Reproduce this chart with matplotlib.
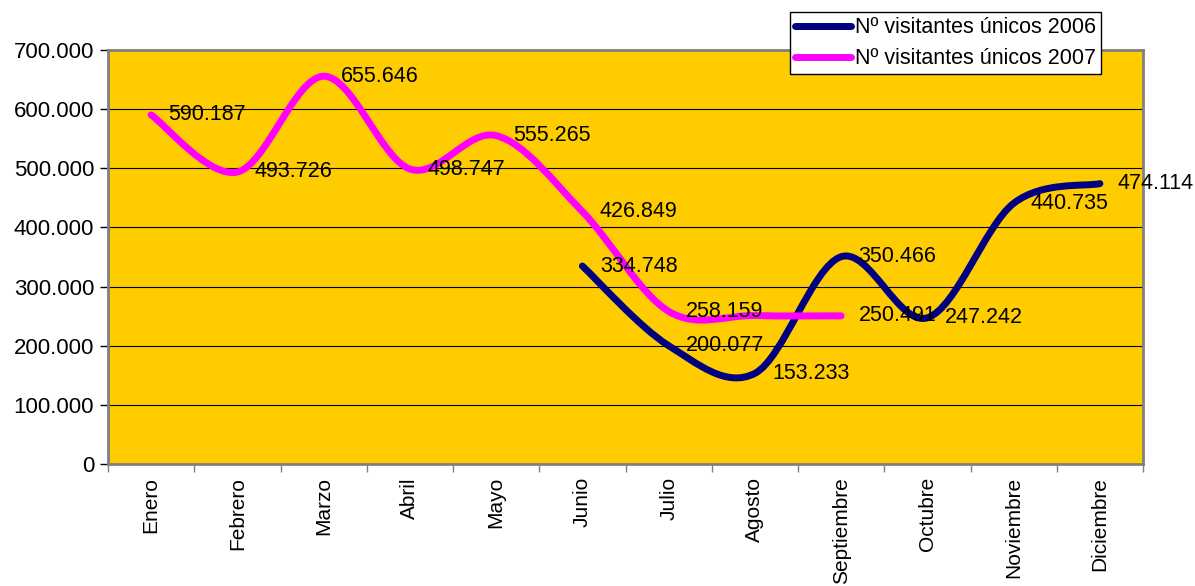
import matplotlib
matplotlib.use('Agg')
import matplotlib.pyplot as plt
from matplotlib.path import Path
from matplotlib.patches import PathPatch
from matplotlib.lines import Line2D
from matplotlib.ticker import FuncFormatter, FixedLocator
import numpy as np

plt.rcParams['font.family'] = ['Liberation Sans', 'DejaVu Sans']

meses = ['Enero', 'Febrero', 'Marzo', 'Abril', 'Mayo', 'Junio', 'Julio',
         'Agosto', 'Septiembre', 'Octubre', 'Noviembre', 'Diciembre']

# 2006 starts in Junio
idx_2006 = [5, 6, 7, 8, 9, 10, 11]
vis_2006 = [334748, 200077, 153233, 350466, 247242, 440735, 474114]
lab_2006 = ['334.748', '200.077', '153.233', '350.466', '247.242', '440.735', '474.114']

# 2007 up to Septiembre (Agosto value has no label in the original)
idx_2007 = [0, 1, 2, 3, 4, 5, 6, 7, 8]
vis_2007 = [590187, 493726, 655646, 498747, 555265, 426849, 258159, 251000, 250491]
lab_2007 = ['590.187', '493.726', '655.646', '498.747', '555.265', '426.849', '258.159', None, '250.491']

navy = '#000080'
magenta = '#FF00FF'
fs = 15.5


def smooth_path(xs, ys):
    # Excel-like smoothed line: cubic bezier with catmull-rom control points
    p = np.column_stack([xs, ys]).astype(float)
    n = len(p)
    verts = [p[0]]
    codes = [Path.MOVETO]
    for i in range(n - 1):
        a = p[i - 1] if i > 0 else p[i]
        b = p[i]
        c = p[i + 1]
        d = p[i + 2] if i + 2 < n else p[i + 1]
        verts += [b + (c - a) / 6.0, c - (d - b) / 6.0, c]
        codes += [Path.CURVE4] * 3
    return Path(verts, codes)


fig = plt.figure(figsize=(11.95, 5.86), dpi=100)
ax = fig.add_axes([108 / 1195, 1 - 464 / 586, (1143 - 108) / 1195, (464 - 50) / 586])
ax.set_facecolor('#FFCC00')

for xs, ys, col in [(idx_2006, vis_2006, navy), (idx_2007, vis_2007, magenta)]:
    patch = PathPatch(smooth_path(xs, ys), facecolor='none', edgecolor=col,
                      lw=5, capstyle='round', joinstyle='round', zorder=3)
    ax.add_patch(patch)

for xs, ys, labs in [(idx_2006, vis_2006, lab_2006), (idx_2007, vis_2007, lab_2007)]:
    for x, y, t in zip(xs, ys, labs):
        if t is None:
            continue
        ax.annotate(t, (x, y), xytext=(12.5, 0), textcoords='offset points',
                    ha='left', va='center', fontsize=fs, color='black',
                    zorder=4, annotation_clip=False)

ax.set_xlim(-0.5, 11.5)
ax.set_ylim(0, 700000)

ax.xaxis.set_major_locator(FixedLocator(np.arange(-0.5, 12, 1)))
ax.xaxis.set_minor_locator(FixedLocator(np.arange(12)))
ax.set_xticklabels([''] * 13)
ax.set_xticklabels(meses, minor=True, rotation=90, fontsize=15, va='top')
ax.tick_params(axis='x', which='major', length=6, width=1, color='#808080', direction='out')
ax.tick_params(axis='x', which='minor', length=0, pad=9.5)

ax.set_yticks(np.arange(0, 700001, 100000))
ax.yaxis.set_major_formatter(FuncFormatter(
    lambda v, pos: '0' if v == 0 else f'{int(v):,}'.replace(',', '.')))
ax.tick_params(axis='y', length=6, width=1, color='black', labelsize=16, pad=4)

ax.grid(axis='y', color='black', lw=0.8, zorder=1)
ax.set_axisbelow(True)
for s in ax.spines.values():
    s.set_color('#808080')
    s.set_linewidth(2)

handles = [Line2D([], [], color=navy, lw=5, solid_capstyle='round'),
           Line2D([], [], color=magenta, lw=5, solid_capstyle='round')]
leg = fig.legend(handles, ['Nº visitantes únicos 2006', 'Nº visitantes únicos 2007'],
                 loc='upper left', bbox_to_anchor=(790 / 1195, 1 - 12 / 586),
                 fontsize=fs, frameon=True, fancybox=False, handlelength=2.6,
                 handletextpad=0.15, borderpad=0.25, labelspacing=0.45,
                 borderaxespad=0)
leg.get_frame().set_edgecolor('black')
leg.get_frame().set_linewidth(1)
leg.get_frame().set_alpha(1)

fig.savefig('out.png', dpi=100)
